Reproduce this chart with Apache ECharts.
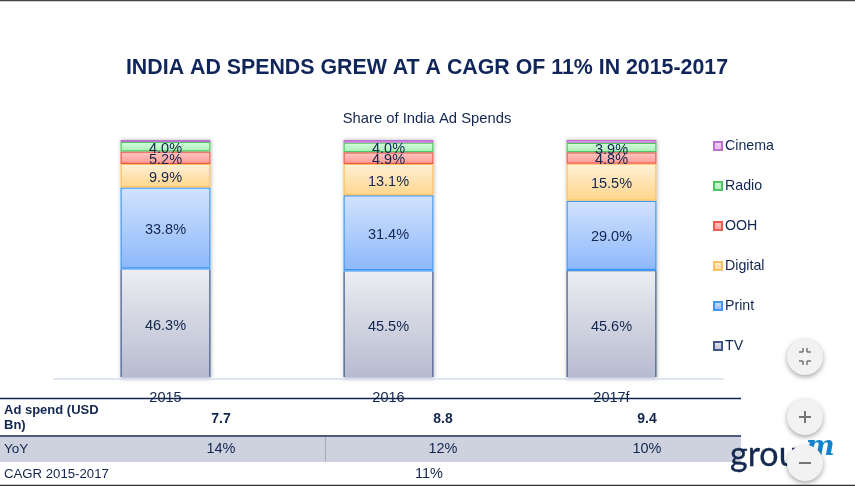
<!DOCTYPE html>
<html><head><meta charset="utf-8">
<style>html,body{margin:0;padding:0;background:#fff}#c{width:855px;height:486px}</style>
<script src="https://cdn.jsdelivr.net/npm/echarts@6/dist/echarts.min.js"></script>
</head><body><div id="c"></div>
<script>
const categories = ['2015','2016','2017f'];
const tv = [46.3,45.5,45.6];
const print = [33.8,31.4,29.0];
const digital = [9.9,13.1,15.5];
const ooh = [5.2,4.9,4.8];
const radio = [4.0,4.0,3.9];
const cinema = [0.8,1.1,1.2];
const spend = ['7.7','8.8','9.4'];
const yoy = ['14%','12%','10%'];
const cagr = '11%';

const NAVY = '#12264f';
const FONT = '"Liberation Sans", Arial, sans-serif';
const grad = (a,b)=>new echarts.graphic.LinearGradient(0,0,0,1,[{offset:0,color:a},{offset:1,color:b}]);
let order = 2;
function s(name,data,top,bot,border,label){
  return {name,type:'bar',stack:'a',data,barWidth:90,z:order++,
    itemStyle:{color:grad(top,bot),borderColor:border,borderWidth:1.2},
    label:{show:label,position:'inside',offset:[0,2],formatter:p=>p.value.toFixed(1)+'%',
      color:NAVY,fontFamily:FONT,fontSize:14.5}};
}
const T=(x,y,text,o={})=>({type:'text',x,y,z:10,style:Object.assign({text,fill:NAVY,font:'13.2px '+FONT,
  textAlign:'left',textVerticalAlign:'middle'},o)});
const L=(x1,y1,x2,y2,c,w)=>({type:'line',z:9,shape:{x1,y1,x2,y2},style:{stroke:c,lineWidth:w}});
const R=(x,y,width,height,fill)=>({type:'rect',z:2,shape:{x,y,width,height},style:{fill}});
const btn=(cx,cy)=>({type:'circle',z:20,shape:{cx,cy,r:18},style:{fill:'#f2f2f2',shadowColor:'rgba(0,0,0,0.35)',shadowBlur:5,shadowOffsetY:2}});
const G=(x1,y1,x2,y2,w=2)=>({type:'line',z:21,shape:{x1,y1,x2,y2},style:{stroke:'#757575',lineWidth:w}});
const cols=[221,443,647];

const tvSeries = s('TV',tv,'#eceef2','#b6bacf','#3f5689',true);
tvSeries.showBackground = true;
tvSeries.backgroundStyle = {color:'#fff',shadowColor:'rgba(0,0,0,0.3)',shadowBlur:4};
tvSeries.itemStyle.borderColor = new echarts.graphic.LinearGradient(0,0,0,1,[
  {offset:0,color:'#3f97f5'},{offset:0.012,color:'#3f97f5'},
  {offset:0.012,color:'#3f5689'},{offset:0.985,color:'#3f5689'},
  {offset:0.985,color:'#d5dded'},{offset:1,color:'#d5dded'}]);

const chart=echarts.init(document.getElementById('c'),null,{renderer:'canvas'});
chart.setOption({
  animation:false,
  backgroundColor:'#fff',
  title:[
    {text:'INDIA AD SPENDS GREW AT A CAGR OF 11% IN 2015-2017',left:422,top:53,textAlign:'center',
     textStyle:{color:'#10255a',fontFamily:FONT,fontSize:21.35,fontWeight:'bold'}},
    {text:'Share of India Ad Spends',left:422,top:106,textAlign:'center',
     textStyle:{color:NAVY,fontFamily:FONT,fontSize:14.8,fontWeight:'normal'}}
  ],
  grid:{left:54,top:140,width:669,height:239},
  legend:{orient:'vertical',left:708,top:134,itemWidth:8,itemHeight:8,itemGap:26,icon:'rect',
    data:['Cinema','Radio','OOH','Digital','Print','TV'],
    textStyle:{color:NAVY,fontFamily:FONT,fontSize:14.2,padding:[0,0,0,-2],lineHeight:14,height:14}},
  xAxis:{type:'category',data:categories,axisTick:{show:false},z:20,
    axisLine:{lineStyle:{color:'#d5dded',width:1.5}},
    axisLabel:{color:NAVY,fontFamily:FONT,fontSize:14.5,margin:11}},
  yAxis:{type:'value',min:0,max:100,show:false},
  series:[
    tvSeries,
    s('Print',print,'#d2e2fd','#8db8fb','#3f97f5',true),
    s('Digital',digital,'#fff0d6','#ffd68c','#fcc15c',true),
    s('OOH',ooh,'#ffc9c5','#ff9a93','#f4584e',true),
    s('Radio',radio,'#d9fbdf','#a7f0b4','#4cc763',true),
    s('Cinema',cinema,'#f3d6f5','#e6b4ea','#bd6fd0',false)
  ],
  graphic:[
    L(0,0.5,855,0.5,'#444',1.5),L(0,485.5,855,485.5,'#333',1.5),
    R(0,437,741,25,'#ced2de'),
    L(0,398.5,741,398.5,'#12264f',1.3),
    L(0,436,741,436,'#12264f',1.3),
    L(325.5,437,325.5,461,'#a3a9bf',1),
    T(4,418,'Ad spend (USD\nBn)',{font:'bold 13px '+FONT,lineHeight:15}),
    ...spend.map((t,i)=>T(cols[i],419,t,{font:'bold 14px '+FONT,textAlign:'center'})),
    T(4,449,'YoY',{font:'13.5px '+FONT}),
    ...yoy.map((t,i)=>T(cols[i],449,t,{font:'14.5px '+FONT,textAlign:'center'})),
    T(4,474,'CAGR 2015-2017'),
    T(429,474,cagr,{font:'14.5px '+FONT,textAlign:'center'}),
    T(730,455,'group',{font:'400 34px Lato, '+FONT,fill:'#14294f',stroke:'#14294f',lineWidth:0.3,z:11}),
    T(806,448,'m',{font:'italic bold 27px "DejaVu Serif", serif',fill:'#1382cc',z:11}),
    btn(805,357),btn(805,417),btn(805,463),
    G(799,352,803,352,1.5),G(803,352,803,348,1.5),G(807,352,811,352,1.5),G(807,352,807,348,1.5),
    G(799,361,803,361,1.5),G(803,361,803,365,1.5),G(807,361,811,361,1.5),G(807,361,807,365,1.5),
    G(799,417,811,417),G(805,411,805,423),G(799,463,811,463)
  ]
});
</script></body></html>
